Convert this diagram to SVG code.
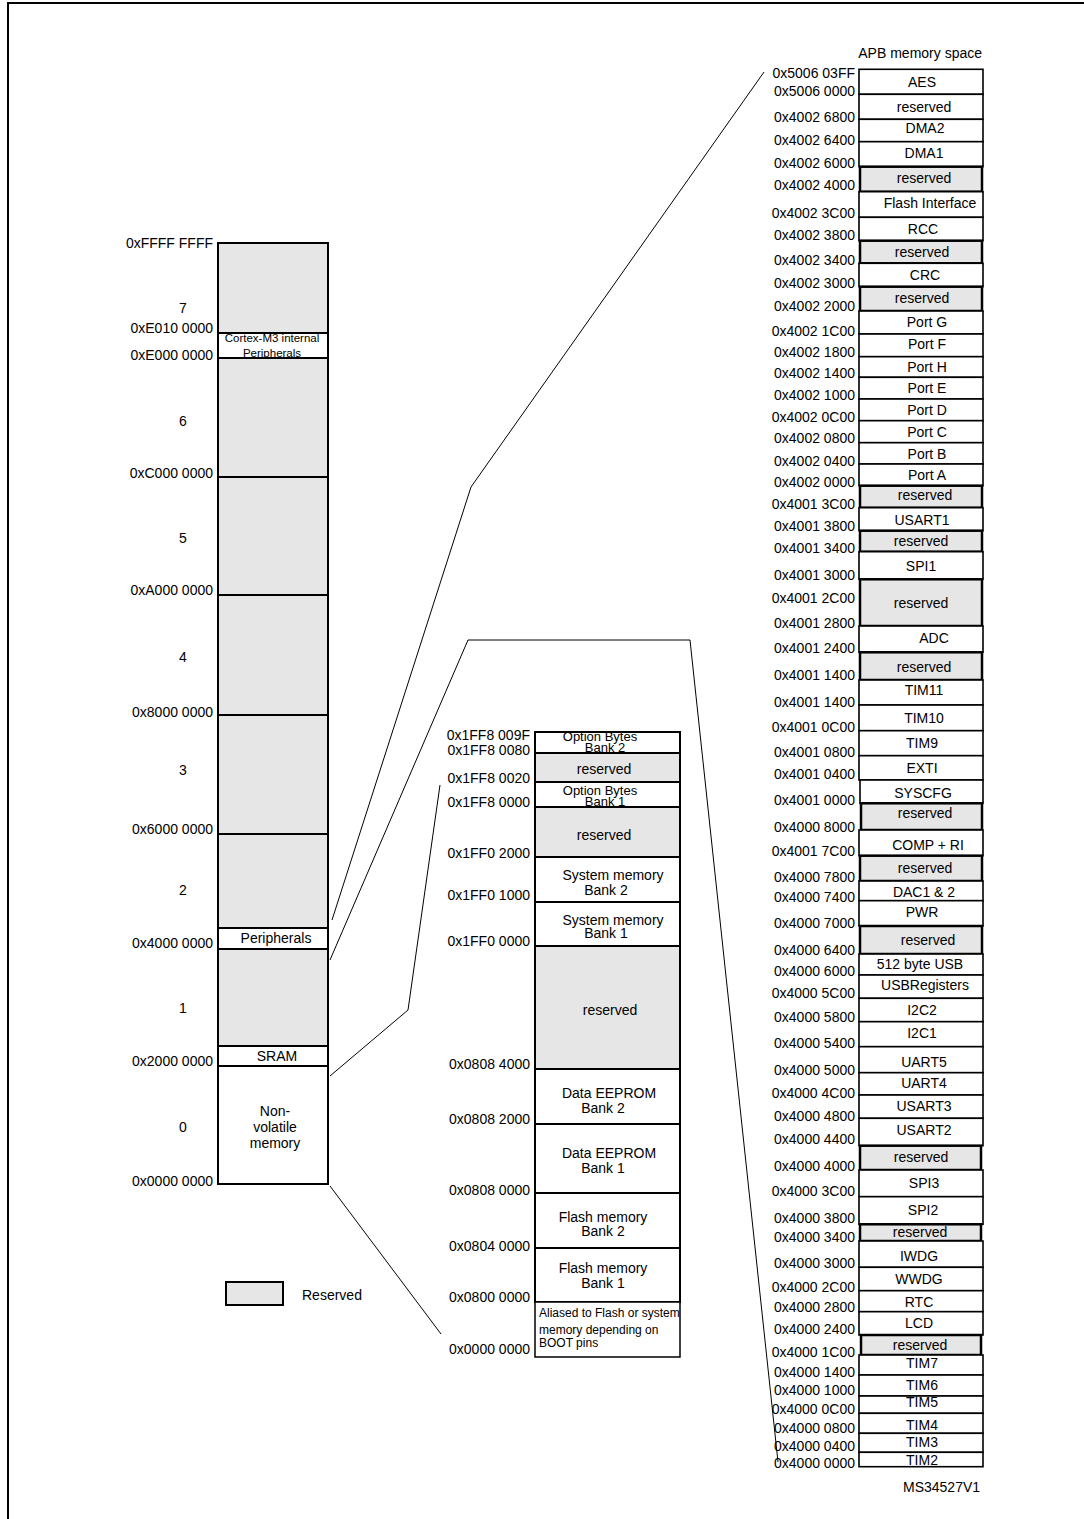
<svg xmlns="http://www.w3.org/2000/svg" width="1084" height="1519" viewBox="0 0 1084 1519">
<style>
text{font-family:"Liberation Sans",Arial,sans-serif;font-size:14px;fill:#000}
.a{text-anchor:end}
.m{text-anchor:middle}
.s{font-size:12px}
.ob{font-size:13px}
.xs{font-size:11.5px}
.g{fill:#e6e6e6;stroke:#000;stroke-width:2}
.w{fill:#fff;stroke:#000;stroke-width:2}
.rg{fill:#e6e6e6;stroke:#000;stroke-width:2.5}
.rw{fill:#fff;stroke:#000;stroke-width:1.6}
.cn{fill:none;stroke:#000;stroke-width:1}
.bd{fill:none;stroke:#000;stroke-width:2}
</style>
<path class="bd" d="M8,1519 V3 H1084"/>

<g id="left-map">
<g id="l7"><rect class="g" x="218" y="243" width="110" height="90"/><text class="a" x="213" y="248">0xFFFF FFFF</text><text class="m" x="183" y="313">7</text></g>
<g id="l-cortex"><rect class="w" x="218" y="333" width="110" height="25"/><text class="a" x="213" y="333">0xE010 0000</text><text class="m xs" x="272" y="342">Cortex-M3 internal</text><text class="m xs" x="272" y="357">Peripherals</text></g>
<g id="l6"><rect class="g" x="218" y="358" width="110" height="119"/><text class="a" x="213" y="360">0xE000 0000</text><text class="m" x="183" y="426">6</text></g>
<g id="l5"><rect class="g" x="218" y="477" width="110" height="118"/><text class="a" x="213" y="478">0xC000 0000</text><text class="m" x="183" y="543">5</text></g>
<g id="l4"><rect class="g" x="218" y="595" width="110" height="120"/><text class="a" x="213" y="595">0xA000 0000</text><text class="m" x="183" y="662">4</text></g>
<g id="l3"><rect class="g" x="218" y="715" width="110" height="119"/><text class="a" x="213" y="717">0x8000 0000</text><text class="m" x="183" y="775">3</text></g>
<g id="l2"><rect class="g" x="218" y="834" width="110" height="94"/><text class="a" x="213" y="834">0x6000 0000</text><text class="m" x="183" y="895">2</text></g>
<g id="l-periph"><rect class="w" x="218" y="928" width="110" height="21"/><text class="m" x="276" y="943">Peripherals</text><text class="a" x="213" y="948">0x4000 0000</text></g>
<g id="l1"><rect class="g" x="218" y="949" width="110" height="97"/><text class="m" x="183" y="1013">1</text></g>
<g id="l-sram"><rect class="w" x="218" y="1046" width="110" height="20"/><text class="m" x="277" y="1061">SRAM</text><text class="a" x="213" y="1066">0x2000 0000</text></g>
<g id="l0"><rect class="w" x="218" y="1066" width="110" height="118"/><text class="m" x="275" y="1116">Non-</text><text class="m" x="275" y="1132">volatile</text><text class="m" x="275" y="1148">memory</text><text class="m" x="183" y="1132">0</text><text class="a" x="213" y="1186">0x0000 0000</text></g>
</g>

<g id="legend"><rect class="g" x="226" y="1282" width="57" height="23"/><text x="302" y="1300">Reserved</text></g>

<g id="mid-map">
<g id="m-ob2"><rect class="w" x="535" y="732" width="145" height="21"/><text class="m ob" x="600" y="741">Option Bytes</text><text class="m ob" x="605" y="752">Bank 2</text><text class="a" x="530" y="740">0x1FF8 009F</text><text class="a" x="530" y="755">0x1FF8 0080</text></g>
<g id="m-r1"><rect class="g" x="535" y="753" width="145" height="29"/><text class="m" x="604" y="774">reserved</text><text class="a" x="530" y="783">0x1FF8 0020</text></g>
<g id="m-ob1"><rect class="w" x="535" y="782" width="145" height="25"/><text class="m ob" x="600" y="795">Option Bytes</text><text class="m ob" x="605" y="806">Bank 1</text><text class="a" x="530" y="807">0x1FF8 0000</text></g>
<g id="m-r2"><rect class="g" x="535" y="807" width="145" height="50"/><text class="m" x="604" y="840">reserved</text><text class="a" x="530" y="858">0x1FF0 2000</text></g>
<g id="m-sys2"><rect class="w" x="535" y="857" width="145" height="45"/><text class="m" x="613" y="880">System memory</text><text class="m" x="606" y="895">Bank 2</text><text class="a" x="530" y="900">0x1FF0 1000</text></g>
<g id="m-sys1"><rect class="w" x="535" y="902" width="145" height="44"/><text class="m" x="613" y="925">System memory</text><text class="m" x="606" y="938">Bank 1</text><text class="a" x="530" y="946">0x1FF0 0000</text></g>
<g id="m-r3"><rect class="g" x="535" y="946" width="145" height="123"/><text class="m" x="610" y="1015">reserved</text><text class="a" x="530" y="1069">0x0808 4000</text></g>
<g id="m-ee2"><rect class="w" x="535" y="1069" width="145" height="55"/><text class="m" x="609" y="1098">Data EEPROM</text><text class="m" x="603" y="1113">Bank 2</text><text class="a" x="530" y="1124">0x0808 2000</text></g>
<g id="m-ee1"><rect class="w" x="535" y="1124" width="145" height="69"/><text class="m" x="609" y="1158">Data EEPROM</text><text class="m" x="603" y="1173">Bank 1</text><text class="a" x="530" y="1195">0x0808 0000</text></g>
<g id="m-fl2"><rect class="w" x="535" y="1193" width="145" height="55"/><text class="m" x="603" y="1222">Flash memory</text><text class="m" x="603" y="1236">Bank 2</text><text class="a" x="530" y="1251">0x0804 0000</text></g>
<g id="m-fl1"><rect class="w" x="535" y="1248" width="145" height="54"/><text class="m" x="603" y="1273">Flash memory</text><text class="m" x="603" y="1288">Bank 1</text><text class="a" x="530" y="1302">0x0800 0000</text></g>
<g id="m-alias"><rect class="w" x="535" y="1302" width="145" height="55" style="stroke-width:1.5"/><text class="s" x="539" y="1317">Aliased to Flash or system</text><text class="s" x="539" y="1334">memory depending on</text><text class="s" x="539" y="1347">BOOT pins</text><text class="a" x="530" y="1354">0x0000 0000</text></g>
</g>

<g id="apb-map">
<text class="a" x="982" y="58">APB memory space</text>
<g id="r-aes"><rect class="rw" x="859" y="69.3" width="124" height="25"/><text class="m" x="922" y="86.7">AES</text><text class="a" x="855" y="78.3">0x5006 03FF</text><text class="a" x="855" y="96">0x5006 0000</text></g>
<g id="r-res0"><rect class="rw" x="859" y="94.3" width="124" height="25"/><text class="m" x="924" y="112.3">reserved</text><text class="a" x="855" y="122.3">0x4002 6800</text></g>
<g id="r-dma2"><rect class="rw" x="859" y="119.3" width="124" height="22.4"/><text class="m" x="925" y="133.3">DMA2</text><text class="a" x="855" y="145">0x4002 6400</text></g>
<g id="r-dma1"><rect class="rw" x="859" y="141.7" width="124" height="25"/><text class="m" x="924" y="158.3">DMA1</text><text class="a" x="855" y="167.7">0x4002 6000</text></g>
<g id="r-res1"><rect class="rg" x="860" y="166.7" width="122" height="25"/><text class="m" x="924" y="183.3">reserved</text><text class="a" x="855" y="190.3">0x4002 4000</text></g>
<g id="r-flash"><rect class="rw" x="859" y="191.7" width="124" height="25.6"/><text class="m" x="930" y="208.3">Flash Interface</text><text class="a" x="855" y="217.7">0x4002 3C00</text></g>
<g id="r-rcc"><rect class="rw" x="859" y="217.3" width="124" height="23.4"/><text class="m" x="923" y="234.3">RCC</text><text class="a" x="855" y="240">0x4002 3800</text></g>
<g id="r-res2"><rect class="rg" x="860" y="240.7" width="122" height="22.6"/><text class="m" x="922" y="256.7">reserved</text><text class="a" x="855" y="265">0x4002 3400</text></g>
<g id="r-crc"><rect class="rw" x="859" y="263.3" width="124" height="23.4"/><text class="m" x="925" y="280">CRC</text><text class="a" x="855" y="287.7">0x4002 3000</text></g>
<g id="r-res3"><rect class="rg" x="860" y="286.7" width="122" height="24.3"/><text class="m" x="922" y="303.3">reserved</text><text class="a" x="855" y="311">0x4002 2000</text></g>
<g id="r-pg"><rect class="rw" x="859" y="311" width="124" height="23"/><text class="m" x="927" y="326.7">Port G</text><text class="a" x="855" y="335.7">0x4002 1C00</text></g>
<g id="r-pf"><rect class="rw" x="859" y="334" width="124" height="22.7"/><text class="m" x="927" y="349">Port F</text><text class="a" x="855" y="357.3">0x4002 1800</text></g>
<g id="r-ph"><rect class="rw" x="859" y="356.7" width="124" height="20.6"/><text class="m" x="927" y="371.7">Port H</text><text class="a" x="855" y="378.3">0x4002 1400</text></g>
<g id="r-pe"><rect class="rw" x="859" y="377.3" width="124" height="21.7"/><text class="m" x="927" y="393.3">Port E</text><text class="a" x="855" y="400">0x4002 1000</text></g>
<g id="r-pd"><rect class="rw" x="859" y="399" width="124" height="21.7"/><text class="m" x="927" y="415">Port D</text><text class="a" x="855" y="421.7">0x4002 0C00</text></g>
<g id="r-pc"><rect class="rw" x="859" y="420.7" width="124" height="22"/><text class="m" x="927" y="437.3">Port C</text><text class="a" x="855" y="443.3">0x4002 0800</text></g>
<g id="r-pb"><rect class="rw" x="859" y="442.7" width="124" height="21.3"/><text class="m" x="927" y="459.3">Port B</text><text class="a" x="855" y="465.7">0x4002 0400</text></g>
<g id="r-pa"><rect class="rw" x="859" y="464" width="124" height="21.7"/><text class="m" x="927" y="480">Port A</text><text class="a" x="855" y="486.7">0x4002 0000</text></g>
<g id="r-res4"><rect class="rg" x="860" y="485.7" width="122" height="22"/><text class="m" x="925" y="500">reserved</text><text class="a" x="855" y="509">0x4001 3C00</text></g>
<g id="r-usart1"><rect class="rw" x="859" y="507.7" width="124" height="23"/><text class="m" x="922" y="525">USART1</text><text class="a" x="855" y="531">0x4001 3800</text></g>
<g id="r-res5"><rect class="rg" x="860" y="530.7" width="122" height="21"/><text class="m" x="921" y="545.7">reserved</text><text class="a" x="855" y="552.7">0x4001 3400</text></g>
<g id="r-spi1"><rect class="rw" x="859" y="551.7" width="124" height="27.6"/><text class="m" x="921" y="570.7">SPI1</text><text class="a" x="855" y="580">0x4001 3000</text></g>
<g id="r-res6"><rect class="rg" x="860" y="579.3" width="122" height="46.7"/><text class="m" x="921" y="607.7">reserved</text><text class="a" x="855" y="602.7">0x4001 2C00</text><text class="a" x="855" y="628.3">0x4001 2800</text></g>
<g id="r-adc"><rect class="rw" x="859" y="626" width="124" height="26.3"/><text class="m" x="934" y="643.3">ADC</text><text class="a" x="855" y="653.3">0x4001 2400</text></g>
<g id="r-res7"><rect class="rg" x="860" y="652.3" width="122" height="27.7"/><text class="m" x="924" y="671.7">reserved</text><text class="a" x="855" y="680">0x4001 1400</text></g>
<g id="r-tim11"><rect class="rw" x="859" y="680" width="124" height="25"/><text class="m" x="924" y="695">TIM11</text><text class="a" x="855" y="706.7">0x4001 1400</text></g>
<g id="r-tim10"><rect class="rw" x="859" y="705" width="124" height="25.7"/><text class="m" x="924" y="723.3">TIM10</text><text class="a" x="855" y="731.7">0x4001 0C00</text></g>
<g id="r-tim9"><rect class="rw" x="859" y="730.7" width="124" height="25"/><text class="m" x="922" y="748.3">TIM9</text><text class="a" x="855" y="756.7">0x4001 0800</text></g>
<g id="r-exti"><rect class="rw" x="859" y="755.7" width="124" height="24.3"/><text class="m" x="922" y="772.7">EXTI</text><text class="a" x="855" y="779">0x4001 0400</text></g>
<g id="r-syscfg"><rect class="rw" x="860" y="780" width="123" height="23.3"/><text class="m" x="923" y="797.7">SYSCFG</text><text class="a" x="855" y="805">0x4001 0000</text></g>
<g id="r-res8"><rect class="rg" x="861" y="803.3" width="121" height="26.7"/><text class="m" x="925" y="818.3">reserved</text><text class="a" x="855" y="831.7">0x4000 8000</text></g>
<g id="r-comp"><rect class="rw" x="859" y="830" width="124" height="25.7"/><text class="m" x="928" y="850">COMP + RI</text><text class="a" x="855" y="855.7">0x4001 7C00</text></g>
<g id="r-res9"><rect class="rg" x="860" y="855.7" width="122" height="25.3"/><text class="m" x="925" y="873.3">reserved</text><text class="a" x="855" y="881.7">0x4000 7800</text></g>
<g id="r-dac"><rect class="rw" x="859" y="881" width="124" height="19.7"/><text class="m" x="924" y="896.7">DAC1 &amp; 2</text><text class="a" x="855" y="901.7">0x4000 7400</text></g>
<g id="r-pwr"><rect class="rw" x="859" y="900.7" width="124" height="25.3"/><text class="m" x="922" y="916.7">PWR</text><text class="a" x="855" y="927.7">0x4000 7000</text></g>
<g id="r-res10"><rect class="rg" x="860" y="926" width="122" height="28"/><text class="m" x="928" y="945">reserved</text><text class="a" x="855" y="955">0x4000 6400</text></g>
<g id="r-usb"><rect class="rw" x="859" y="954" width="124" height="21"/><text class="m" x="920" y="969">512 byte USB</text><text class="a" x="855" y="975.7">0x4000 6000</text></g>
<g id="r-usbreg"><rect class="rw" x="859" y="975" width="124" height="23.3"/><text class="m" x="925" y="990">USBRegisters</text><text class="a" x="855" y="998.3">0x4000 5C00</text></g>
<g id="r-i2c2"><rect class="rw" x="859" y="998.3" width="124" height="23.4"/><text class="m" x="922" y="1015">I2C2</text><text class="a" x="855" y="1021.7">0x4000 5800</text></g>
<g id="r-i2c1"><rect class="rw" x="859" y="1021.7" width="124" height="25"/><text class="m" x="922" y="1038.3">I2C1</text><text class="a" x="855" y="1048.3">0x4000 5400</text></g>
<g id="r-uart5"><rect class="rw" x="859" y="1046.7" width="124" height="26"/><text class="m" x="924" y="1066.7">UART5</text><text class="a" x="855" y="1075">0x4000 5000</text></g>
<g id="r-uart4"><rect class="rw" x="859" y="1072.7" width="124" height="22.3"/><text class="m" x="924" y="1088.3">UART4</text><text class="a" x="855" y="1097.7">0x4000 4C00</text></g>
<g id="r-usart3"><rect class="rw" x="859" y="1095" width="124" height="23.3"/><text class="m" x="924" y="1111">USART3</text><text class="a" x="855" y="1121">0x4000 4800</text></g>
<g id="r-usart2"><rect class="rw" x="859" y="1118.3" width="124" height="27.4"/><text class="m" x="924" y="1135">USART2</text><text class="a" x="855" y="1144.3">0x4000 4400</text></g>
<g id="r-res11"><rect class="rg" x="860" y="1145.7" width="121" height="24.3"/><text class="m" x="921" y="1161.7">reserved</text><text class="a" x="855" y="1171">0x4000 4000</text></g>
<g id="r-spi3"><rect class="rw" x="859" y="1170" width="124" height="26.7"/><text class="m" x="924" y="1188.3">SPI3</text><text class="a" x="855" y="1195.7">0x4000 3C00</text></g>
<g id="r-spi2"><rect class="rw" x="859" y="1196.7" width="124" height="27.6"/><text class="m" x="923" y="1215">SPI2</text><text class="a" x="855" y="1223.3">0x4000 3800</text></g>
<g id="r-res12"><rect class="rg" x="860" y="1224.3" width="121" height="16.7"/><text class="m" x="920" y="1237.3">reserved</text><text class="a" x="855" y="1241.7">0x4000 3400</text></g>
<g id="r-iwdg"><rect class="rw" x="859" y="1241" width="124" height="26.3"/><text class="m" x="919" y="1260.7">IWDG</text><text class="a" x="855" y="1267.7">0x4000 3000</text></g>
<g id="r-wwdg"><rect class="rw" x="859" y="1267.3" width="124" height="23.4"/><text class="m" x="919" y="1284.3">WWDG</text><text class="a" x="855" y="1291.7">0x4000 2C00</text></g>
<g id="r-rtc"><rect class="rw" x="859" y="1290.7" width="124" height="21"/><text class="m" x="919" y="1306.7">RTC</text><text class="a" x="855" y="1311.7">0x4000 2800</text></g>
<g id="r-lcd"><rect class="rw" x="859" y="1311.7" width="124" height="23.3"/><text class="m" x="919" y="1328.3">LCD</text><text class="a" x="855" y="1334.3">0x4000 2400</text></g>
<g id="r-res13"><rect class="rg" x="861" y="1335" width="120" height="20"/><text class="m" x="920" y="1350">reserved</text><text class="a" x="855" y="1357.3">0x4000 1C00</text></g>
<g id="r-tim7"><rect class="rw" x="859" y="1355" width="124" height="20"/><text class="m" x="922" y="1368.3">TIM7</text><text class="a" x="855" y="1376.7">0x4000 1400</text></g>
<g id="r-tim6"><rect class="rw" x="859" y="1375" width="124" height="21"/><text class="m" x="922" y="1390">TIM6</text><text class="a" x="855" y="1395">0x4000 1000</text></g>
<g id="r-tim5"><rect class="rw" x="859" y="1396" width="124" height="17.3"/><text class="m" x="922" y="1406.7">TIM5</text><text class="a" x="855" y="1414">0x4000 0C00</text></g>
<g id="r-tim4"><rect class="rw" x="859" y="1413.3" width="124" height="20"/><text class="m" x="922" y="1430">TIM4</text><text class="a" x="855" y="1433.3">0x4000 0800</text></g>
<g id="r-tim3"><rect class="rw" x="859" y="1433.3" width="124" height="19"/><text class="m" x="922" y="1447.3">TIM3</text><text class="a" x="855" y="1450.7">0x4000 0400</text></g>
<g id="r-tim2"><rect class="rw" x="859" y="1452.3" width="124" height="14.4"/><text class="m" x="922" y="1465">TIM2</text><text class="a" x="855" y="1467.7">0x4000 0000</text></g>
</g>

<g id="connectors">
<polyline class="cn" points="332,920 471,487 764,72"/>
<polyline class="cn" points="330,960 468,640 690,640 778,1462"/>
<polyline class="cn" points="330,1076 408,1010 440,785"/>
<line class="cn" x1="330" y1="1186" x2="441" y2="1334"/>
</g>

<text x="903" y="1492">MS34527V1</text>
</svg>
